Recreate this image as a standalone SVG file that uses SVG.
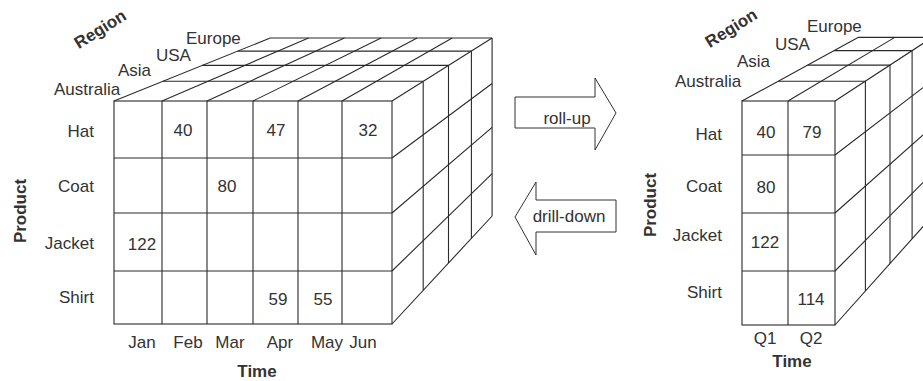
<svg xmlns="http://www.w3.org/2000/svg" width="923" height="381" viewBox="0 0 923 381">
<style>
text{font-family:"Liberation Sans",Arial,sans-serif;fill:#333;}
.lb{font-size:17px;}
.r{text-anchor:end;}
.c{text-anchor:middle;}
.ax{font-size:17px;font-weight:bold;text-anchor:middle;}
.g{fill:none;stroke:#2a2a2a;stroke-width:1.1;}
.arr{fill:#fff;stroke:#333;stroke-width:1;}
</style>
<rect width="923" height="381" fill="#fff"/>

<g id="cube-left">
  <g class="g">
    <rect x="114" y="101" width="278" height="223"/>
    <path d="M162 101V324M207 101V324M253 101V324M298 101V324M342 101V324"/>
    <path d="M114 158H392M114 213H392M114 271H392"/>
    <path d="M114 101L270.2 38M162 101L308.5 38M207 101L344.4 38M253 101L381.1 38M298 101L417.1 38M342 101L452.2 38M392 101L492.1 38"/>
    <path d="M162.8 81.3H423.2M202.2 65.4H448.5M237.8 51.1H471.4M270.2 38H492.1"/>
    <path d="M392 158L492.1 83.5M392 213L492.1 127.4M392 271L492.1 173.7M392 324L492.1 216"/>
    <path d="M423.2 81.3V290.3M448.5 65.4V263M471.4 51.1V238.4M492.1 38V216"/>
  </g>
  <text class="ax" x="100" y="35" transform="rotate(-32 100 29)">Region</text>
  <text class="lb" x="186" y="44">Europe</text>
  <text class="lb" x="156" y="61">USA</text>
  <text class="lb" x="118" y="76">Asia</text>
  <text class="lb" x="54" y="95">Australia</text>
  <text class="lb r" x="94" y="137">Hat</text>
  <text class="lb r" x="94" y="192">Coat</text>
  <text class="lb r" x="94" y="249">Jacket</text>
  <text class="lb r" x="94" y="303">Shirt</text>
  <text class="ax" transform="translate(26 211) rotate(-90)">Product</text>
  <text class="lb c" x="183" y="136">40</text>
  <text class="lb c" x="276" y="136">47</text>
  <text class="lb c" x="368" y="136">32</text>
  <text class="lb c" x="227" y="192">80</text>
  <text class="lb c" x="142" y="250">122</text>
  <text class="lb c" x="278" y="305">59</text>
  <text class="lb c" x="323" y="305">55</text>
  <text class="lb c" x="142" y="348">Jan</text>
  <text class="lb c" x="188" y="348">Feb</text>
  <text class="lb c" x="230" y="348">Mar</text>
  <text class="lb c" x="280" y="348">Apr</text>
  <text class="lb c" x="327" y="348">May</text>
  <text class="lb c" x="363" y="348">Jun</text>
  <text class="ax" x="257" y="377">Time</text>
</g>

<g id="cube-right">
  <g class="g">
    <rect x="742" y="101" width="93" height="224"/>
    <path d="M788 101V325"/>
    <path d="M742 155H835M742 213H835M742 271H835"/>
    <path d="M742 101L858 37.4M788 101L894.8 37.4M835 101L932.3 37.4"/>
    <path d="M778.2 81.2H865.4M807.6 65.1H890M834 50.6H912.1M858 37.4H932.3"/>
    <path d="M835 155L932.3 80.5M835 213L932.3 126.8M835 271L932.3 173.1M835 325L932.3 216.2"/>
    <path d="M865.4 81.2V291M890 65.1V263.6M912.1 50.6V238.8"/>
  </g>
  <text class="ax" x="731" y="34" transform="rotate(-32 731 28)">Region</text>
  <text class="lb" x="807" y="32">Europe</text>
  <text class="lb" x="775" y="50">USA</text>
  <text class="lb" x="737" y="67">Asia</text>
  <text class="lb" x="675" y="87">Australia</text>
  <text class="lb r" x="722" y="140">Hat</text>
  <text class="lb r" x="722" y="192">Coat</text>
  <text class="lb r" x="722" y="241">Jacket</text>
  <text class="lb r" x="722" y="298">Shirt</text>
  <text class="ax" transform="translate(656 205) rotate(-90)">Product</text>
  <text class="lb c" x="766" y="138">40</text>
  <text class="lb c" x="812" y="138">79</text>
  <text class="lb c" x="766" y="193">80</text>
  <text class="lb c" x="765" y="248">122</text>
  <text class="lb c" x="811" y="305">114</text>
  <text class="lb c" x="765" y="344">Q1</text>
  <text class="lb c" x="811" y="344">Q2</text>
  <text class="ax" x="792" y="367">Time</text>
</g>

<g id="connectors">
  <g id="roll-up">
    <path class="arr" d="M515 97H595V78L616 113L595 150V128H515Z"/>
    <text class="lb c" x="567" y="124">roll-up</text>
  </g>
  <g id="drill-down">
    <path class="arr" d="M616 200H536V182L515 217L536 255V232H616Z"/>
    <text class="lb c" x="569" y="222">drill-down</text>
  </g>
</g>
</svg>
